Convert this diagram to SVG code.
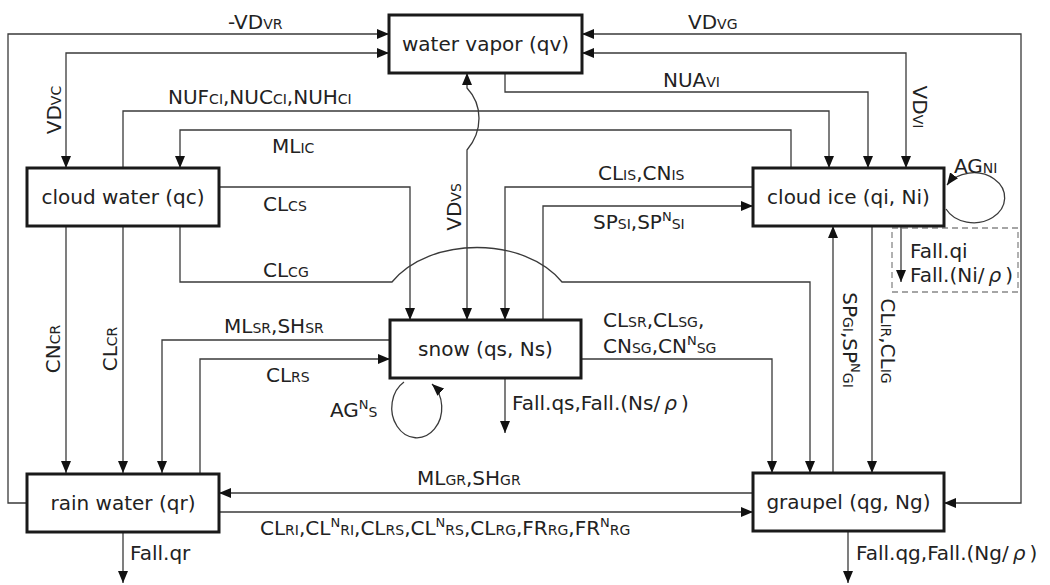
<svg xmlns="http://www.w3.org/2000/svg" width="1050" height="585" viewBox="0 0 1050 585">
<style>
.bg{fill:#fff}
.node rect{fill:#fff;stroke:#1a1a1a;stroke-width:3}
.node text{font-family:"DejaVu Sans",sans-serif;font-size:20px;fill:#222;text-anchor:middle}
.c path{fill:none;stroke:#3a3a3a;stroke-width:1.3}
.arr{marker-end:url(#ah)}
.bi{marker-end:url(#ah);marker-start:url(#ah)}
.lbl text{font-family:"DejaVu Sans",sans-serif;font-size:20px;fill:#222}
.s{font-size:14px}
.sup{font-size:13px}
.dash{fill:none;stroke:#888;stroke-width:1.3;stroke-dasharray:6 4}
</style>
<defs>
<marker id="ah" viewBox="0 0 12 10" refX="12" refY="5" markerWidth="12" markerHeight="10" markerUnits="userSpaceOnUse" orient="auto-start-reverse">
<path d="M0,0 L12,5 L0,10 Z" fill="#111"/>
</marker>
</defs>
<rect class="bg" x="0" y="0" width="1050" height="585"/>
<g id="connectors" class="c">
<path class="arr" d="M27,503 H8 V34 H389"/>
<path class="bi" d="M389,53 H66 V168"/>
<path class="bi" d="M582,34 H1021 V503 H944"/>
<path class="bi" d="M582,53 H906 V168"/>
<path class="arr" d="M505,73 V92 H868 V168"/>
<path class="arr" d="M123,168 V111 H829 V168"/>
<path class="arr" d="M791,168 V130 H180 V168"/>
<path class="arr" d="M219,187 H410 V320"/>
<path class="arr" d="M180,226 V282 H392 C430,236 524,236 562,282 H810 V473"/>
<path class="arr" d="M753,187 H505 V320"/>
<path class="arr" d="M543,320 V206 H753"/>
<path class="bi" d="M467,73 V88 C483,105 483,131 467,150 V320"/>
<path class="arr" d="M390,340 H162 V473"/>
<path class="arr" d="M200,473 V359 H390"/>
<path class="arr" d="M66,226 V473"/>
<path class="arr" d="M123,226 V473"/>
<path class="arr" d="M581,359 H772 V473"/>
<path class="arr" d="M404,382 A25,30 0 1 0 432,384"/>
<path class="arr" d="M505,378 V433"/>
<path class="arr" d="M753,493 H219"/>
<path class="arr" d="M219,512 H753"/>
<path class="arr" d="M123,532 V583"/>
<path class="arr" d="M848,531 V583"/>
<path class="arr" d="M833,473 V226"/>
<path class="arr" d="M872,226 V473"/>
<path class="arr" d="M946,209 A31,25 0 1 0 947,185"/>
<path class="arr" d="M901,226 V282"/>
<rect class="dash" x="892" y="228" width="126" height="64"/>
</g>
<g id="labels" class="lbl">
<text x="228" y="29">-VD<tspan class="s">VR</tspan></text>
<text x="688" y="29">VD<tspan class="s">VG</tspan></text>
<text x="663" y="87">NUA<tspan class="s">VI</tspan></text>
<text x="168" y="104">NUF<tspan class="s">CI</tspan>,NUC<tspan class="s">CI</tspan>,NUH<tspan class="s">CI</tspan></text>
<text x="272" y="153">ML<tspan class="s">IC</tspan></text>
<text x="263" y="211">CL<tspan class="s">CS</tspan></text>
<text x="263" y="277">CL<tspan class="s">CG</tspan></text>
<text x="598" y="180">CL<tspan class="s">IS</tspan>,CN<tspan class="s">IS</tspan></text>
<text x="593" y="229">SP<tspan class="s">SI</tspan>,SP<tspan class="sup" dy="-8">N</tspan><tspan class="s" dy="8">SI</tspan></text>
<text x="224" y="333">ML<tspan class="s">SR</tspan>,SH<tspan class="s">SR</tspan></text>
<text x="266" y="382">CL<tspan class="s">RS</tspan></text>
<text x="603" y="327">CL<tspan class="s">SR</tspan>,CL<tspan class="s">SG</tspan>,</text>
<text x="603" y="353">CN<tspan class="s">SG</tspan>,CN<tspan class="sup" dy="-8">N</tspan><tspan class="s" dy="8">SG</tspan></text>
<text x="954" y="173">AG<tspan class="s">NI</tspan></text>
<text x="330" y="417">AG<tspan class="sup" dy="-8">N</tspan><tspan class="s" dy="8">S</tspan></text>
<text x="512" y="410">Fall.qs,Fall.(Ns/<tspan dx="4" font-style="italic">ρ</tspan><tspan dx="4">)</tspan></text>
<text x="417" y="485">ML<tspan class="s">GR</tspan>,SH<tspan class="s">GR</tspan></text>
<text x="260" y="535">CL<tspan class="s">RI</tspan>,CL<tspan class="sup" dy="-8">N</tspan><tspan class="s" dy="8">RI</tspan>,CL<tspan class="s">RS</tspan>,CL<tspan class="sup" dy="-8">N</tspan><tspan class="s" dy="8">RS</tspan>,CL<tspan class="s">RG</tspan>,FR<tspan class="s">RG</tspan>,FR<tspan class="sup" dy="-8">N</tspan><tspan class="s" dy="8">RG</tspan></text>
<text x="130" y="560">Fall.qr</text>
<text x="856" y="560">Fall.qg,Fall.(Ng/<tspan dx="4" font-style="italic">ρ</tspan><tspan dx="4">)</tspan></text>
<text x="910" y="258">Fall.qi</text>
<text x="910" y="282">Fall.(Ni/<tspan dx="4" font-style="italic">ρ</tspan><tspan dx="4">)</tspan></text>
<text transform="translate(61,110) rotate(-90)" text-anchor="middle">VD<tspan class="s">VC</tspan></text>
<text transform="translate(60,349) rotate(-90)" text-anchor="middle">CN<tspan class="s">CR</tspan></text>
<text transform="translate(117,349) rotate(-90)" text-anchor="middle">CL<tspan class="s">CR</tspan></text>
<text transform="translate(461,207) rotate(-90)" text-anchor="middle">VD<tspan class="s">VS</tspan></text>
<text transform="translate(913,107) rotate(90)" text-anchor="middle">VD<tspan class="s">VI</tspan></text>
<text transform="translate(843,340) rotate(90)" text-anchor="middle">SP<tspan class="s">GI</tspan>,SP<tspan class="sup" dy="-8">N</tspan><tspan class="s" dy="8">GI</tspan></text>
<text transform="translate(881,341) rotate(90)" text-anchor="middle">CL<tspan class="s">IR</tspan>,CL<tspan class="s">IG</tspan></text>
</g>
<g id="water-vapor" class="node"><rect x="389" y="15" width="193" height="58"/><text x="485.5" y="51">water vapor (qv)</text></g>
<g id="cloud-water" class="node"><rect x="27" y="168" width="192" height="58"/><text x="123" y="204">cloud water (qc)</text></g>
<g id="cloud-ice" class="node"><rect x="753" y="168" width="191" height="58"/><text x="848.5" y="204">cloud ice (qi, Ni)</text></g>
<g id="snow" class="node"><rect x="390" y="320" width="191" height="58"/><text x="485.5" y="356">snow (qs, Ns)</text></g>
<g id="rain-water" class="node"><rect x="27" y="474" width="192" height="58"/><text x="123" y="510">rain water (qr)</text></g>
<g id="graupel" class="node"><rect x="753" y="473" width="191" height="58"/><text x="848.5" y="509">graupel (qg, Ng)</text></g>
</svg>
